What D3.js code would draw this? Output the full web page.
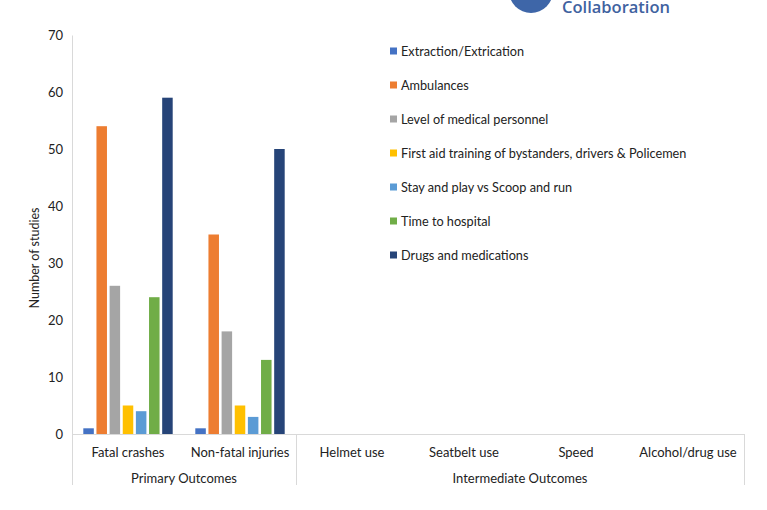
<!DOCTYPE html>
<html>
<head>
<meta charset="utf-8">
<script src="https://cdn.jsdelivr.net/npm/d3@7"></script>
<style>
body { margin: 0; background: #fff; }
text { font-family: Lato, "Open Sans", sans-serif; fill: #222; }
</style>
</head>
<body>
<script>
var width = 767,
    height = 510;

// data
var categories = ["Fatal crashes", "Non-fatal injuries", "Helmet use", "Seatbelt use", "Speed", "Alcohol/drug use"];
var groups = ["Primary Outcomes", "Intermediate Outcomes"];
var groupOf = [0, 0, 1, 1, 1, 1];
var series = ["Extraction/Extrication", "Ambulances", "Level of medical personnel",
    "First aid training of bystanders, drivers & Policemen", "Stay and play vs Scoop and run",
    "Time to hospital", "Drugs and medications"];
var colors = ["#4472C4", "#ED7D31", "#A5A5A5", "#FFC000", "#5B9BD5", "#70AD47", "#264478"];
var values = [
    [1, 54, 26, 5, 4, 24, 59],
    [1, 35, 18, 5, 3, 13, 50],
    [], [], [], []
];
var yTicks = [0, 10, 20, 30, 40, 50, 60, 70];

var mLeft = 72, mRight = 744, mTop = 35, mBottom = 434;

var svg = d3.select("body").append("svg")
    .attr("width", width)
    .attr("height", height);

// logo fragment at the top edge
svg.append("circle")
    .attr("cx", 531)
    .attr("cy", -9)
    .attr("r", 22)
    .attr("fill", "#3e66a8");
svg.append("text")
    .attr("x", 562)
    .attr("y", 13)
    .style("font-family", "'Open Sans', sans-serif")
    .style("font-weight", "600")
    .style("font-size", "16.5px")
    .style("fill", "#3f62a0")
    .text("Collaboration");

var x0 = d3.scaleBand()
    .domain(categories)
    .range([mLeft, mRight]);

var x1 = d3.scaleBand()
    .domain(series)
    .range([0, x0.bandwidth()])
    .paddingInner(0.2)
    .paddingOuter(0.86);

var y = d3.scaleLinear()
    .domain([0, 70])
    .range([mBottom, mTop]);

var color = d3.scaleOrdinal().domain(series).range(colors);

// y axis
var yAxis = svg.append("g")
    .attr("transform", "translate(" + mLeft + ",0)")
    .call(d3.axisLeft(y).tickValues(yTicks).tickSize(0).tickPadding(9));
yAxis.select(".domain").attr("stroke", "#d9d9d9");
yAxis.selectAll("text")
    .style("font-family", "Lato, sans-serif")
    .style("font-size", "13px")
    .attr("fill", "#222");

svg.append("text")
    .attr("transform", "translate(39,258)rotate(-90)")
    .attr("text-anchor", "middle")
    .style("font-size", "12.5px")
    .text("Number of studies");

// bars
var cat = svg.selectAll("g.cat")
    .data(categories)
    .enter().append("g")
    .attr("class", "cat")
    .attr("transform", function(d) { return "translate(" + x0(d) + ",0)"; });

cat.selectAll("rect")
    .data(function(d, i) {
        return values[i].map(function(v, j) { return { s: series[j], v: v }; });
    })
    .enter().append("rect")
    .attr("x", function(d) { return x1(d.s); })
    .attr("y", function(d) { return y(d.v); })
    .attr("width", x1.bandwidth())
    .attr("height", function(d) { return y(0) - y(d.v); })
    .attr("fill", function(d) { return color(d.s); });

// x axis, two levels
var axisColor = "#d9d9d9";
svg.append("line")
    .attr("x1", mLeft).attr("x2", mRight)
    .attr("y1", mBottom + 0.5).attr("y2", mBottom + 0.5)
    .attr("stroke", axisColor);

svg.selectAll("text.cat")
    .data(categories)
    .enter().append("text")
    .attr("class", "cat")
    .attr("x", function(d) { return x0(d) + x0.bandwidth() / 2; })
    .attr("y", 457)
    .attr("text-anchor", "middle")
    .style("font-size", "13px")
    .text(function(d) { return d; });

var groupExtent = groups.map(function(g, gi) {
    var cats = categories.filter(function(c, i) { return groupOf[i] === gi; });
    return {
        name: g,
        x0: x0(cats[0]),
        x1: x0(cats[cats.length - 1]) + x0.bandwidth()
    };
});

svg.selectAll("text.grp")
    .data(groupExtent)
    .enter().append("text")
    .attr("class", "grp")
    .attr("x", function(d) { return (d.x0 + d.x1) / 2; })
    .attr("y", 483)
    .attr("text-anchor", "middle")
    .style("font-size", "13px")
    .text(function(d) { return d.name; });

var dividers = [groupExtent[0].x0].concat(groupExtent.map(function(d) { return d.x1; }));
svg.selectAll("line.div")
    .data(dividers)
    .enter().append("line")
    .attr("class", "div")
    .attr("x1", function(d) { return Math.round(d) + 0.5; })
    .attr("x2", function(d) { return Math.round(d) + 0.5; })
    .attr("y1", mBottom)
    .attr("y2", 485)
    .attr("stroke", axisColor);

// legend
var legend = svg.selectAll("g.leg")
    .data(series)
    .enter().append("g")
    .attr("class", "leg")
    .attr("transform", function(d, i) { return "translate(390," + (51 + i * 34) + ")"; });

legend.append("rect")
    .attr("x", 0)
    .attr("y", -3.5)
    .attr("width", 7)
    .attr("height", 7)
    .attr("fill", function(d) { return color(d); });

legend.append("text")
    .attr("x", 11)
    .attr("y", 4.5)
    .style("font-size", "12.7px")
    .text(function(d) { return d; });
</script>
</body>
</html>
